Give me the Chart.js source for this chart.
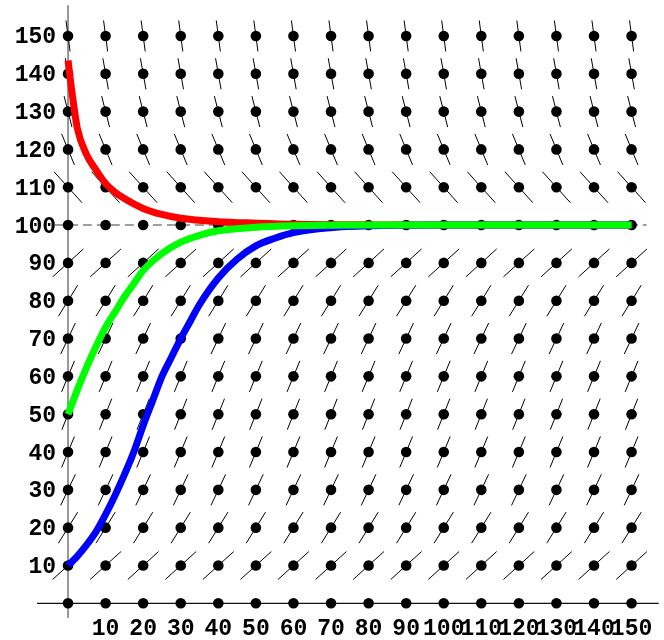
<!DOCTYPE html>
<html>
<head>
<meta charset="utf-8">
<script src="https://cdn.jsdelivr.net/npm/chart.js@4.4.1/dist/chart.umd.min.js"></script>
<style>
  html, body { margin: 0; padding: 0; background: #fff; }
  #wrap { width: 664px; height: 640px; }
</style>
</head>
<body>
<div id="wrap"><canvas id="fieldChart" width="664" height="640"></canvas></div>
<script>
// ======================
// data
// ======================
const fieldX = [0, 10, 20, 30, 40, 50, 60, 70, 80, 90, 100, 110, 120, 130, 140, 150];
const fieldY = [0, 10, 20, 30, 40, 50, 60, 70, 80, 90, 100, 110, 120, 130, 140, 150];
// slope of the little segments on each row (null = no segment drawn)
const rowSlopes = [null, 0.9, 1.6, 2.1, 2.4, 2.5, 2.4, 2.1, 1.6, 0.9, null, -1.1, -2.4, -3.9, -5.6, -7.5];

const xTicks = [10, 20, 30, 40, 50, 60, 70, 80, 90, 100, 110, 120, 130, 140, 150];
const yTicks = [10, 20, 30, 40, 50, 60, 70, 80, 90, 100, 110, 120, 130, 140, 150];

// solution curves
const redT   = [0, 1, 2.5, 5, 7.5, 10, 12.5, 15, 20, 25, 30, 40, 50, 60, 80, 150];
const redY   = [143.5, 135.5, 125.5, 118.5, 114.5, 111, 108.7, 107, 104.4, 102.8, 101.8, 100.9, 100.5, 100.2, 100.05, 100];

const blueT  = [0, 2.5, 5, 7.5, 10, 12.5, 15, 17.5, 20, 22.5, 25, 27.5, 30, 32.5, 35, 40, 45, 50, 55, 60, 70, 80, 100, 150];
const blueY  = [10, 12.5, 15.5, 19, 23.5, 28.5, 34, 40, 47, 53.5, 60, 65, 70, 74.5, 79, 86, 91, 94.5, 96.5, 98, 99.3, 99.8, 100, 100];

const greenT = [0, 2.5, 5, 7.5, 10, 12.5, 15, 17.5, 20, 25, 30, 35, 40, 50, 60, 80, 150];
const greenY = [50, 56.5, 62.5, 68, 73, 77, 81, 84.5, 88, 92.5, 95.5, 97.3, 98.5, 99.4, 99.8, 100, 100];

// ======================
// build datasets
// ======================
const SEG = 4.1; // half size of the box a segment fits in (data units)

function zip(ts, ys) {
    return ts.map((t, i) => ({ x: t, y: ys[i] }));
}

const segPoints = [];
const dotPoints = [];
fieldY.forEach((y, j) => {
    fieldX.forEach(x => {
        dotPoints.push({ x: x, y: y });
        const s = rowSlopes[j];
        if (s === null) return;
        let dx = SEG, dy = SEG * s;
        if (Math.abs(s) > 1) {
            dx = SEG / Math.abs(s);
            dy = SEG * Math.sign(s);
        }
        segPoints.push({ x: x - dx, y: y - dy });
        segPoints.push({ x: x + dx, y: y + dy });
        segPoints.push({ x: x, y: null });
    });
});

function curve(pts, color) {
    return {
        type: 'line',
        data: pts,
        borderColor: color,
        borderWidth: 7,
        pointRadius: 0,
        fill: false,
        cubicInterpolationMode: 'monotone',
        borderCapStyle: 'butt'
    };
}

// axes, dashed equilibrium line and tick labels
const axesPlugin = {
    id: 'axesPlugin',
    beforeDatasetsDraw(chart) {
        const { ctx, chartArea } = chart;
        const xs = chart.scales.x, ys = chart.scales.y;
        const x0 = xs.getPixelForValue(0), y0 = ys.getPixelForValue(0);
        ctx.save();
        // y axis
        ctx.strokeStyle = '#777';
        ctx.lineWidth = 1.5;
        ctx.beginPath();
        ctx.moveTo(x0, chartArea.top);
        ctx.lineTo(x0, chartArea.bottom);
        ctx.stroke();
        // x axis
        ctx.strokeStyle = '#111';
        ctx.lineWidth = 1.3;
        ctx.beginPath();
        ctx.moveTo(chartArea.left, y0);
        ctx.lineTo(chartArea.right, y0);
        ctx.stroke();
        // dashed line at 100
        const y100 = ys.getPixelForValue(100);
        ctx.strokeStyle = '#808080';
        ctx.lineWidth = 1.5;
        ctx.setLineDash([9, 5]);
        ctx.beginPath();
        ctx.moveTo(xs.getPixelForValue(-3.5), y100);
        ctx.lineTo(xs.getPixelForValue(154), y100);
        ctx.stroke();
        ctx.restore();
    },
    afterDraw(chart) {
        const { ctx } = chart;
        const xs = chart.scales.x, ys = chart.scales.y;
        const x0 = xs.getPixelForValue(0), y0 = ys.getPixelForValue(0);
        ctx.save();
        ctx.fillStyle = '#000';
        ctx.font = "bold 23px 'Liberation Mono', monospace";
        ctx.textAlign = 'right';
        ctx.textBaseline = 'alphabetic';
        yTicks.forEach(v => {
            ctx.fillText(String(v), x0 - 12, ys.getPixelForValue(v) + 7.5);
        });
        ctx.textAlign = 'center';
        xTicks.forEach(v => {
            ctx.fillText(String(v), xs.getPixelForValue(v), y0 + 32);
        });
        ctx.restore();
    }
};

// ======================
// chart
// ======================
const ctx = document.getElementById('fieldChart').getContext('2d');
const fieldChart = new Chart(ctx, {
    type: 'scatter',
    data: {
        datasets: [
            curve(zip(greenT, greenY), '#00ff00'),
            curve(zip(blueT, blueY), '#0000ff'),
            curve(zip(redT, redY), '#ff0000'),
            {
                type: 'scatter',
                data: dotPoints,
                pointRadius: 5.3,
                pointBackgroundColor: '#000',
                pointBorderWidth: 0
            },
            {
                type: 'line',
                data: segPoints,
                borderColor: '#000',
                borderWidth: 1,
                pointRadius: 0,
                spanGaps: false,
                tension: 0
            }
        ]
    },
    options: {
        responsive: false,
        animation: false,
        events: [],
        layout: { padding: { left: 37, right: 0, top: 5, bottom: 22 } },
        plugins: {
            legend: { display: false },
            tooltip: { enabled: false }
        },
        scales: {
            x: { type: 'linear', min: -8.26, max: 157.22, display: false },
            y: { type: 'linear', min: -3.88, max: 158.1, display: false }
        }
    },
    plugins: [axesPlugin]
});
</script>
</body>
</html>
